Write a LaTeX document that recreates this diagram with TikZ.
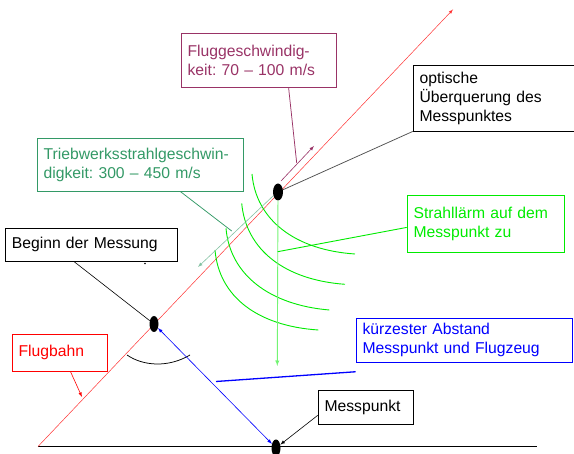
\documentclass[tikz,border=0pt]{standalone}
\usepackage{fontspec}
\setmainfont{Liberation Sans}
\usepackage{tikz}
\usetikzlibrary{shapes.geometric}
\definecolor{bahnred}{RGB}{255,0,0}
\definecolor{flugvio}{RGB}{153,51,102}
\definecolor{strahlgr}{RGB}{51,153,102}
\definecolor{laermgr}{RGB}{0,235,0}
\definecolor{abstbl}{RGB}{0,0,255}
\definecolor{optgray}{RGB}{80,80,80}
\frenchspacing

\begin{document}
\begin{tikzpicture}[
            x=1pt, y=-1pt,
            txtbox/.style={draw, rectangle, anchor=north west, align=left,
                inner xsep=6.5pt, inner ysep=0pt, line width=0.75pt,
                font=\fontsize{15.7}{19}\selectfont},
            blackdot/.style={ellipse, fill=black, inner sep=0pt}
        ]
            \useasboundingbox (0,0) rectangle (574,454);

            \coordinate (origin) at (38,446.5);
            \coordinate (pathend) at (453,9.5);
            \coordinate (groundend) at (537,446.5);

            \draw [line width=1pt] (origin) -- (groundend);
            \draw [bahnred!80,-latex,line width=0.5pt] (origin) -- (pathend);

            \node[blackdot, minimum width=9pt, minimum height=16pt] (startpt) at (154,324) {};
            \node[blackdot, minimum width=10pt, minimum height=17pt] (overpt) at (278,192) {};
            \node[blackdot, minimum width=9pt, minimum height=17pt] (messpt) at (276,448) {};

            \node[txtbox, flugvio, minimum height=54pt, text width=142pt] (flugv) at (180.7,32.7) {Fluggeschwindig-\\keit: 70 – 100 m/s};
            \node[txtbox, minimum height=65.7pt, text width=150pt] (optisch) at (412.7,65) {optische\\Überquerung des\\Messpunktes};
            \node[txtbox, strahlgr, minimum height=52.7pt, text width=193.3pt] (trieb) at (36.7,138) {Triebwerksstrahlgeschwin-\\digkeit: 300 – 450 m/s};
            \node[txtbox, laermgr, minimum height=56.7pt, text width=144.3pt] (strahl) at (406.7,195) {Strahllärm auf dem\\Messpunkt zu};
            \node[txtbox, minimum height=33pt, text width=158.7pt] (beginn) at (5,228) {Beginn der Messung};
            \node[txtbox, bahnred, minimum height=36.7pt, text width=82.3pt] (flugbahn) at (11.7,334) {Flugbahn};
            \node[txtbox, abstbl, minimum height=44pt, text width=203pt] (abstand) at (355.7,318) {kürzester Abstand\\Messpunkt und Flugzeug};
            \node[txtbox, minimum height=34pt, text width=82.3pt] (messbox) at (317.7,390) {Messpunkt};

            \draw [laermgr,line width=0.9pt] (252,174) .. controls (256,220) and (295,250) .. (355,254);
            \draw [laermgr,line width=0.9pt] (241.7,203.3) .. controls (246,250) and (285,280) .. (345,284.3);
            \draw [laermgr,line width=0.9pt] (226,228.3) .. controls (230,275) and (270,305) .. (329.3,310);
            \draw [laermgr,line width=0.9pt] (215,250) .. controls (219,297) and (258,326) .. (318.3,330);

            \coordinate (laermtip) at (277.3,366);
            \coordinate (strahlpt) at (277.7,251.7);
            \draw [laermgr!55,-latex,line width=0.9pt] (overpt) -- (laermtip);
            \draw [laermgr,line width=0.9pt] ([yshift=-3.7pt]strahl.west) -- (strahlpt);

            \coordinate (vfoot) at (281,181);
            \coordinate (vtip) at (314,146);
            \coordinate (flugpt) at (296.7,163);
            \draw [flugvio,-latex,line width=0.6pt] (vfoot) -- (vtip);
            \draw [flugvio,line width=0.75pt] ([xshift=30pt]flugv.south) -- (flugpt);

            \coordinate (sfoot) at (273,196);
            \coordinate (stip) at (198,267);
            \coordinate (triebpt) at (231.7,231);
            \draw [strahlgr!60,-latex,line width=0.6pt] (sfoot) -- (stip);
            \draw [strahlgr,line width=0.75pt] ([xshift=40pt]trieb.south) -- (triebpt);

            \draw [optgray,line width=0.75pt] (overpt) -- (optisch.south west);
            \draw [line width=0.6pt] ([xshift=-17pt]beginn.south) -- (startpt);
            \fill (145,263.5) circle (0.8);

            \coordinate (bahnpt) at (82,397);
            \draw [bahnred,-latex,line width=0.6pt] ([xshift=10.7pt]flugbahn.south) -- (bahnpt);

            \coordinate (arcA) at (127,355);
            \coordinate (arcB) at (190,355);
            \draw [line width=0.75pt] (arcA) .. controls (143,366) and (168,368) .. (arcB);

            \coordinate (abstpt) at (216,381.5);
            \draw [abstbl,latex-latex,line width=0.6pt] (startpt) -- (messpt);
            \draw [abstbl,line width=1.3pt] (abstpt) -- ([yshift=-9pt]abstand.south west);

            \draw [-latex,line width=0.6pt] ([yshift=-8pt]messbox.west) -- (messpt);
        \end{tikzpicture}
\end{document}
